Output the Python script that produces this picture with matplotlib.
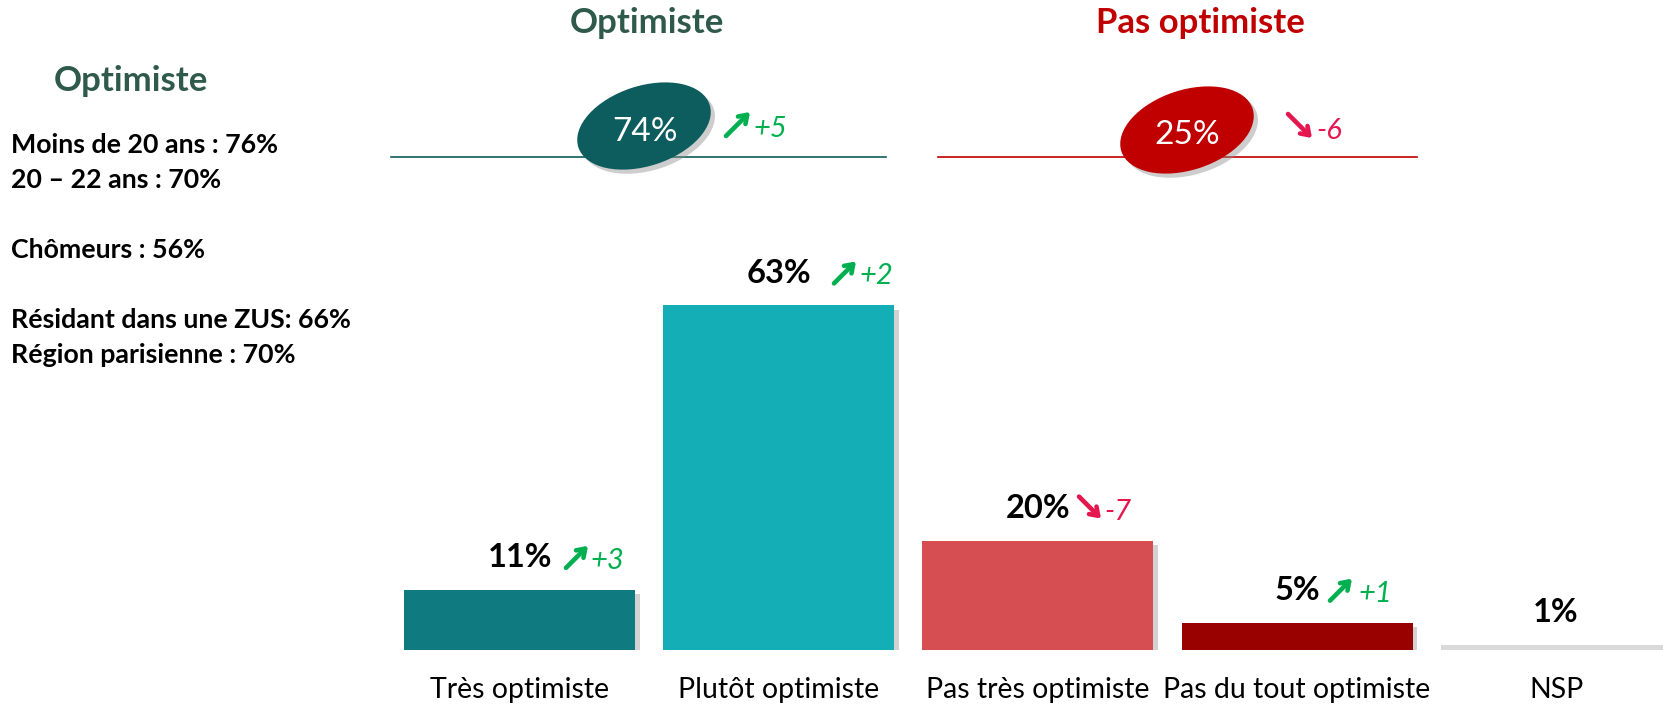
import matplotlib
matplotlib.use('Agg')
import matplotlib.pyplot as plt
from matplotlib.patches import Ellipse
from matplotlib import patheffects as pe
from matplotlib.transforms import IdentityTransform

plt.rcParams['font.family'] = ['Lato', 'DejaVu Sans']

# ---------------- data ----------------
categories = ['Très optimiste', 'Plutôt optimiste', 'Pas très optimiste',
              'Pas du tout optimiste', 'NSP']
values = [11, 63, 20, 5, 1]
deltas = [3, 2, -7, 1, None]
bar_colors = ['#0f7a80', '#13aeb6', '#d64e52', '#990000', '#d9d9d9']

group_names = ['Optimiste', 'Pas optimiste']
group_values = [74, 25]
group_deltas = [5, -6]
group_fill = ['#0d5c5e', '#c00000']
group_title_colors = ['#2f5a4b', '#c00000']

subgroup_title = 'Optimiste'
subgroup_lines = ['Moins de 20 ans : 76%', '20 – 22 ans : 70%', '',
                  'Chômeurs : 56%', '',
                  'Résidant dans une ZUS: 66%', 'Région parisienne : 70%']

UP = '#00b050'
DOWN = '#e5174f'
ARROW = '->,head_length=0.55,head_width=0.38'

# ---------------- layout ----------------
W, H = 1663, 705
DPI = 100
fig = plt.figure(figsize=(W / DPI, H / DPI), dpi=DPI)
fig.patch.set_facecolor('white')

pitch = 259.0
x0 = 520.0
pxpp = 5.47
base = 650.0
ax = fig.add_axes([0, (H - base) / H, 1, base / H])
ax.set_xlim(-x0 / pitch, (W - x0) / pitch)
ax.set_ylim(0, base / pxpp)
ax.axis('off')

shadow = [pe.SimplePatchShadow(offset=(3, -3), shadow_rgbFace='#909090', alpha=0.4),
          pe.Normal()]
bars = ax.bar(range(len(values)), values, width=231 / pitch, color=bar_colors,
              zorder=2)
for b in bars:
    b.set_path_effects(shadow)

arrow_dx = [57, 66, 52, 44, 0]
delta_dx = [71, 81, 66, 62, 0]


def trend_arrow(axis, cx, cy, up, size=11):
    if up:
        start, end = (cx - size, cy - size), (cx + size, cy + size)
        col = UP
    else:
        start, end = (cx - size, cy + size), (cx + size, cy - size)
        col = DOWN
    axis.annotate('', xy=end, xycoords=IdentityTransform(), xytext=start,
                  textcoords=IdentityTransform(),
                  arrowprops=dict(arrowstyle=ARROW, lw=3.3, color=col,
                                  shrinkA=0, shrinkB=0),
                  annotation_clip=False)


for i, (v, d) in enumerate(zip(values, deltas)):
    ax.annotate(f'{v}%', (i, v), xytext=(0, 32), textcoords='offset pixels',
                ha='center', va='center', fontsize=23.5, fontweight='bold',
                color='black', annotation_clip=False)
    ax.annotate(categories[i], (i, 0), xytext=(0, -40), textcoords='offset pixels',
                ha='center', va='center', fontsize=20.5, color='black',
                annotation_clip=False)
    if d is not None:
        px, py = ax.transData.transform((i, v))
        trend_arrow(ax, px + arrow_dx[i], py + 33, d > 0)
        ax.annotate(f'{d:+d}', (i, v), xytext=(delta_dx[i], 29),
                    textcoords='offset pixels', ha='left', va='center',
                    fontsize=21, style='italic', color=UP if d > 0 else DOWN,
                    annotation_clip=False)

# ---------------- overlay (pixel coordinates) ----------------
ov = fig.add_axes([0, 0, 1, 1])
ov.set_xlim(0, W)
ov.set_ylim(H, 0)
ov.axis('off')

title_x = [647, 1200]
line_x = [(391, 886), (938, 1417)]
ell_c = [(644, 126), (1187, 130)]
txt_c = [(645, 132), (1187, 135)]
arr_c = [(738, 124), (1300, 126)]
dlt_x = [754, 1316]
dlt_y = [129, 131]

for k in range(2):
    ov.text(title_x[k], 23, group_names[k], ha='center', va='center',
            fontsize=25, fontweight='bold', color=group_title_colors[k])
    ov.plot(line_x[k], [157, 157], color=group_fill[k], lw=1.2, zorder=1)
    e = Ellipse(ell_c[k], 138, 80, angle=-18, facecolor=group_fill[k],
                edgecolor='none', zorder=3)
    e.set_path_effects([pe.SimplePatchShadow(offset=(3, -3), shadow_rgbFace='#909090',
                                             alpha=0.45), pe.Normal()])
    ov.add_patch(e)
    ov.text(txt_c[k][0], txt_c[k][1], f'{group_values[k]}%', ha='center', va='center',
            fontsize=24, color='white', zorder=4)
    d = group_deltas[k]
    cx, cy = arr_c[k]
    col = UP if d > 0 else DOWN
    if d > 0:
        s, t = (cx - 12, cy + 12), (cx + 12, cy - 12)
    else:
        s, t = (cx - 12, cy - 12), (cx + 12, cy + 12)
    ov.annotate('', xy=t, xytext=s,
                arrowprops=dict(arrowstyle=ARROW, lw=3.3, color=col,
                                shrinkA=0, shrinkB=0))
    ov.text(dlt_x[k], dlt_y[k], f'{d:+d}', ha='left', va='center', fontsize=21,
            style='italic', color=col)

# left panel
ov.text(131, 81, subgroup_title, ha='center', va='center', fontsize=25,
        fontweight='bold', color=group_title_colors[0])
for j, line in enumerate(subgroup_lines):
    if line:
        ov.text(11, 145 + 35 * j, line, ha='left', va='center', fontsize=19.3,
                fontweight='bold', color='black')

fig.savefig('out.png', dpi=DPI, facecolor='white')
